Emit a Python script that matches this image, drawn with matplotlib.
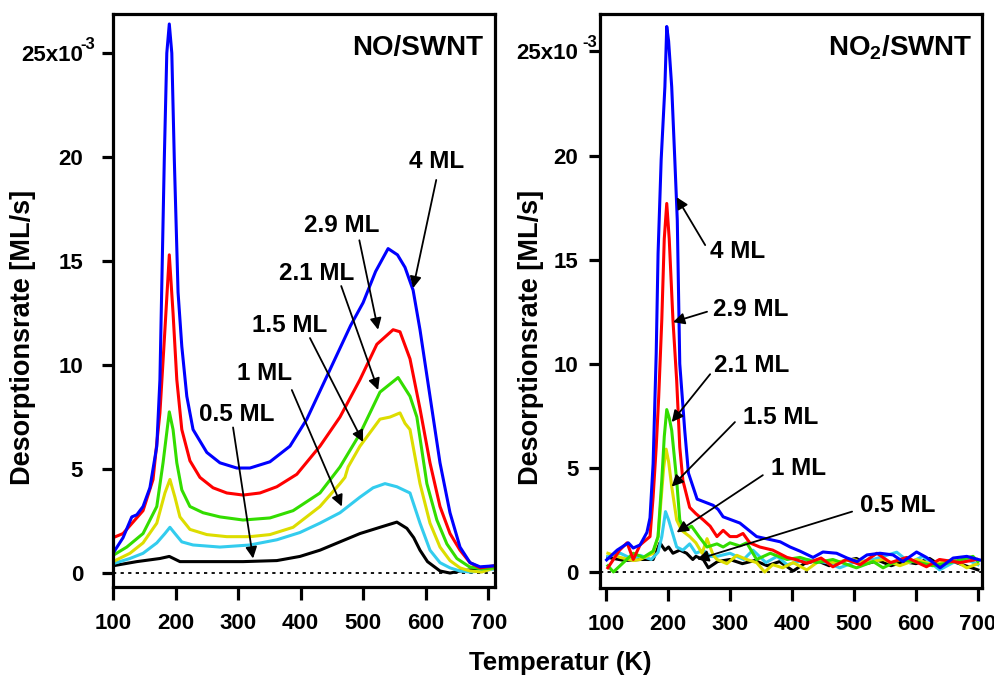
import matplotlib
matplotlib.use('Agg')
import matplotlib.pyplot as plt
from matplotlib.transforms import blended_transform_factory

# ---------------- data ----------------
labels = ['0.5 ML', '1 ML', '1.5 ML', '2.1 ML', '2.9 ML', '4 ML']
colors = ['black', '#33ccee', '#dddd00', '#33dd00', '#ff0000', '#0000ff']

# NO/SWNT (left panel)
no_t_05 = [100, 138, 175, 190, 207, 255, 308, 362, 399, 431, 463, 495, 527, 554, 570, 581, 591, 603, 623, 639, 655, 671, 690, 710]
no_r_05 = [0.35, 0.55, 0.7, 0.8, 0.55, 0.55, 0.55, 0.6, 0.8, 1.1, 1.5, 1.9, 2.2, 2.45, 2.15, 1.7, 1.1, 0.55, 0.1, 0.0, 0.1, 0.15, 0.2, 0.25]

no_t_1 = [100, 127, 148, 170, 183, 191, 199, 210, 228, 271, 319, 362, 399, 431, 463, 495, 516, 535, 554, 575, 591, 607, 623, 639, 655, 671, 690, 710]
no_r_1 = [0.45, 0.7, 0.95, 1.45, 1.9, 2.2, 1.9, 1.5, 1.35, 1.25, 1.35, 1.6, 1.95, 2.4, 2.9, 3.65, 4.1, 4.3, 4.15, 3.85, 2.4, 1.1, 0.5, 0.25, 0.1, 0.05, 0.1, 0.2]

no_t_15 = [100, 127, 148, 170, 183, 191, 199, 207, 223, 250, 282, 319, 351, 388, 431, 463, 471, 476, 495, 527, 543, 559, 567, 575, 591, 607, 623, 639, 655, 671, 690, 710]
no_r_15 = [0.55, 0.95, 1.45, 2.4, 3.85, 4.5, 3.65, 2.7, 2.1, 1.85, 1.75, 1.75, 1.85, 2.2, 3.2, 4.3, 4.6, 5.1, 6.1, 7.4, 7.5, 7.7, 7.2, 6.9, 4.3, 2.4, 1.25, 0.6, 0.25, 0.1, 0.05, 0.25]

no_t_21 = [100, 122, 148, 170, 180, 190, 196, 202, 210, 223, 244, 271, 308, 351, 388, 431, 463, 495, 527, 556, 575, 586, 602, 618, 634, 650, 670, 690, 710]
no_r_21 = [0.85, 1.25, 1.9, 3.2, 5.3, 7.75, 6.9, 5.3, 4.0, 3.2, 2.9, 2.7, 2.55, 2.65, 3.0, 3.85, 5.1, 6.7, 8.7, 9.4, 8.5, 7.5, 4.3, 2.55, 1.4, 0.7, 0.3, 0.2, 0.25]

no_t_29 = [100, 116, 132, 148, 164, 175, 183, 190, 196, 202, 210, 223, 239, 260, 282, 308, 335, 362, 394, 431, 463, 495, 522, 548, 559, 575, 591, 607, 623, 639, 655, 671, 687, 710]
no_r_29 = [1.7, 1.9, 2.45, 3.0, 4.5, 7.7, 11.7, 15.3, 12.5, 9.3, 6.9, 5.4, 4.6, 4.1, 3.85, 3.75, 3.85, 4.15, 4.75, 6.1, 7.5, 9.3, 11.0, 11.7, 11.6, 10.3, 7.9, 5.3, 3.2, 1.9, 1.1, 0.5, 0.25, 0.35]

no_t_4 = [100, 116, 130, 138, 148, 159, 170, 175, 182, 186, 190, 194, 198, 204, 210, 218, 228, 250, 271, 298, 319, 351, 383, 410, 452, 480, 500, 520, 540, 555, 567, 580, 591, 607, 623, 639, 655, 671, 687, 710]
no_r_4 = [0.95, 1.7, 2.7, 2.8, 3.2, 4.1, 6.1, 9.3, 19.9, 25.0, 26.4, 25.0, 19.9, 13.5, 10.9, 8.5, 6.9, 5.8, 5.3, 5.05, 5.05, 5.35, 6.1, 7.4, 10.1, 11.9, 13.0, 14.5, 15.6, 15.3, 14.7, 13.6, 11.7, 8.5, 5.3, 2.9, 1.25, 0.5, 0.3, 0.35]

# NO2/SWNT (right panel)
no2_t_05 = [103, 130, 155, 176, 187, 195, 201, 208, 219, 230, 240, 245, 257, 265, 280, 300, 320, 340, 360, 380, 402, 420, 440, 460, 480, 504, 520, 540, 560, 580, 600, 622, 640, 660, 680, 700]
no2_r_05 = [0.7, 0.55, 0.6, 0.6, 1.4, 1.05, 1.2, 0.9, 1.05, 0.9, 0.6, 0.75, 0.6, 0.2, 0.5, 0.6, 0.4, 0.55, 0.3, 0.5, 0.05, 0.4, 0.55, 0.3, 0.5, 0.65, 0.4, 0.55, 0.3, 0.5, 0.4, 0.65, 0.3, 0.5, 0.3, 0.1]

no2_t_1 = [103, 123, 144, 155, 173, 184, 190, 196, 201, 206, 214, 224, 235, 245, 257, 268, 279, 300, 322, 337, 358, 376, 392, 424, 456, 477, 499, 531, 569, 590, 611, 638, 660, 682, 700]
no2_r_1 = [0.75, 0.9, 0.6, 0.8, 0.6, 0.95, 1.7, 2.9, 2.5, 2.0, 1.2, 1.05, 1.35, 0.9, 1.05, 0.75, 0.75, 0.9, 0.6, 1.05, 0.45, 0.75, 0.35, 0.6, 0.45, 0.2, 0.45, 0.6, 0.95, 0.45, 0.75, 0.1, 0.45, 0.6, 0.35]

no2_t_15 = [103, 123, 144, 155, 176, 184, 190, 193, 197, 201, 206, 214, 222, 235, 245, 255, 263, 273, 279, 295, 311, 327, 343, 356, 369, 385, 402, 424, 447, 466, 499, 521, 547, 574, 601, 627, 660, 682, 700]
no2_r_15 = [0.9, 0.7, 0.55, 0.6, 0.9, 1.7, 3.9, 5.0, 5.9, 5.3, 4.1, 2.5, 2.0, 1.7, 1.4, 0.9, 1.6, 0.8, 0.6, 0.4, 0.8, 0.6, 0.45, 0.0, 0.35, 0.2, 0.45, 0.1, 0.6, 0.45, 0.6, 0.45, 0.6, 0.3, 0.6, 0.35, 0.6, 0.2, 0.4]

no2_t_21 = [103, 112, 128, 144, 160, 176, 184, 190, 194, 198, 202, 206, 214, 219, 227, 238, 250, 263, 279, 289, 300, 316, 327, 343, 365, 392, 413, 440, 466, 504, 531, 547, 574, 606, 627, 655, 692, 700]
no2_r_21 = [0.3, 0.0, 0.45, 0.9, 0.7, 1.0, 1.7, 4.4, 6.5, 7.8, 7.4, 6.8, 4.4, 2.5, 2.0, 2.2, 1.7, 1.2, 1.35, 1.2, 1.4, 1.25, 1.4, 0.6, 0.9, 0.6, 0.7, 0.45, 0.6, 0.2, 0.5, 0.2, 0.6, 0.45, 0.3, 0.45, 0.75, 0.5]

no2_t_29 = [103, 122, 134, 144, 155, 171, 176, 181, 185, 190, 194, 198, 202, 208, 214, 219, 224, 235, 245, 257, 268, 279, 289, 300, 311, 321, 332, 348, 369, 392, 408, 424, 447, 466, 488, 510, 537, 559, 585, 617, 638, 671, 698]
no2_r_29 = [0.2, 1.05, 1.4, 0.6, 1.3, 1.7, 3.6, 6.0, 8.4, 12.1, 16.0, 17.7, 16.0, 12.1, 9.2, 6.0, 4.4, 3.1, 2.8, 2.5, 2.2, 1.7, 2.0, 1.7, 1.7, 1.85, 1.4, 1.2, 1.05, 0.7, 0.58, 0.42, 0.67, 0.25, 0.6, 0.35, 0.9, 0.45, 0.7, 0.25, 0.6, 0.45, 0.6]

no2_t_4 = [101, 118, 136, 144, 155, 166, 171, 176, 181, 184, 189, 195, 198, 201, 206, 211, 215, 219, 227, 233, 247, 273, 281, 289, 316, 343, 381, 397, 413, 434, 450, 472, 489, 505, 521, 542, 563, 579, 601, 617, 639, 660, 682, 703]
no2_r_4 = [0.58, 1.05, 1.4, 1.15, 1.3, 1.9, 2.6, 5.2, 10.5, 15.3, 19.8, 23.3, 26.2, 25.5, 23.3, 19.8, 16.9, 10.0, 6.8, 4.75, 3.5, 3.2, 3.0, 2.65, 2.35, 1.7, 1.45, 1.2, 1.0, 0.7, 0.96, 0.9, 0.67, 0.5, 0.82, 0.9, 0.82, 0.5, 0.96, 0.7, 0.2, 0.67, 0.75, 0.58]

no_series = [(no_t_05, no_r_05), (no_t_1, no_r_1), (no_t_15, no_r_15),
             (no_t_21, no_r_21), (no_t_29, no_r_29), (no_t_4, no_r_4)]
no2_series = [(no2_t_05, no2_r_05), (no2_t_1, no2_r_1), (no2_t_15, no2_r_15),
              (no2_t_21, no2_r_21), (no2_t_29, no2_r_29), (no2_t_4, no2_r_4)]

yticks = [0, 5, 10, 15, 20, 25]
ytick_labels = ['0', '5', '10', '15', '20', '25x10']
xticks = [100, 200, 300, 400, 500, 600, 700]

# ---------------- style ----------------
plt.rcParams['font.family'] = ['Liberation Sans', 'DejaVu Sans']
plt.rcParams['font.weight'] = 'bold'
plt.rcParams['mathtext.fontset'] = 'custom'
plt.rcParams['mathtext.rm'] = 'Liberation Sans:bold'
plt.rcParams['mathtext.it'] = 'Liberation Sans:bold'
plt.rcParams['mathtext.bf'] = 'Liberation Sans:bold'

fig = plt.figure(figsize=(9.95, 6.79), dpi=100)
ax1 = fig.add_axes([0.1136, 0.1355, 0.3839, 0.8439])
ax2 = fig.add_axes([0.603, 0.134, 0.3839, 0.8454])


def setup(ax, xlim, ylim, ypad, sup_x, title, title_x):
    ax.set_xlim(*xlim)
    ax.set_ylim(*ylim)
    ax.set_xticks(xticks)
    ax.set_yticks(yticks)
    ax.set_yticklabels(ytick_labels)
    for s in ax.spines.values():
        s.set_linewidth(2.3)
    ax.tick_params(axis='x', direction='out', length=9, width=2.3,
                   labelsize=16, pad=10)
    ax.tick_params(axis='y', direction='out', length=8, width=2.3,
                   labelsize=16, pad=ypad)
    for lab in ax.get_xticklabels() + ax.get_yticklabels():
        lab.set_fontweight('bold')
    ax.axhline(0, color='black', lw=1.3, ls=(0, (1.8, 2.4)), zorder=1)
    tr = blended_transform_factory(ax.transAxes, ax.transData)
    ax.text(sup_x, 25.2, '-3', transform=tr, fontsize=12, fontweight='bold',
            ha='left', va='baseline', clip_on=False)
    ax.text(title_x, 0.928, title, transform=ax.transAxes, fontsize=20,
            fontweight='bold', ha='right', va='baseline')


def curves(ax, series):
    for (t, r), c in zip(series, colors):
        ax.plot(t, r, color=c, lw=2.2, solid_joinstyle='round', zorder=2)


def arrows(ax, notes):
    for lab, txt_xy, tail, head in notes:
        ax.text(txt_xy[0], txt_xy[1], lab, fontsize=17.5, fontweight='bold',
                ha='center', va='center', zorder=5)
        ax.annotate('', xy=head, xytext=tail,
                    arrowprops=dict(arrowstyle='-|>', color='black', lw=1.3,
                                    mutation_scale=17, shrinkA=0, shrinkB=0),
                    zorder=5)


curves(ax1, no_series)
setup(ax1, (100, 711), (-0.67, 26.88), 13.5, -0.086, 'NO/SWNT', 0.969)
arrows(ax1, [
    ('4 ML', (618, 19.8), (617, 18.9), (580, 13.7)),
    ('2.9 ML', (465, 16.7), (494, 16.0), (524, 11.7)),
    ('2.1 ML', (426, 14.4), (465, 13.8), (524, 8.8)),
    ('1.5 ML', (383, 11.9), (415, 11.3), (500, 6.3)),
    ('1 ML', (343, 9.6), (386, 8.8), (466, 3.2)),
    ('0.5 ML', (298, 7.6), (292, 7.0), (324, 0.7)),
])

curves(ax2, no2_series)
setup(ax2, (90.3, 706.5), (-0.77, 26.8), 7.5, -0.047, 'NO$_2$/SWNT', 0.976)
arrows(ax2, [
    ('4 ML', (313, 15.4), (260, 15.7), (214, 18.0)),
    ('2.9 ML', (334, 12.6), (263, 12.5), (208, 12.0)),
    ('2.1 ML', (335, 9.9), (268, 9.5), (206, 7.2)),
    ('1.5 ML', (381, 7.4), (308, 7.2), (206, 4.1)),
    ('1 ML', (410, 4.95), (353, 4.65), (214, 1.9)),
    ('0.5 ML', (571, 3.2), (497, 2.9), (247, 0.6)),
])

fig.text(0.023, 0.503, 'Desorptionsrate [ML/s]', rotation=90, fontsize=19.5,
         fontweight='bold', ha='center', va='center')
fig.text(0.534, 0.503, 'Desorptionsrate [ML/s]', rotation=90, fontsize=19.5,
         fontweight='bold', ha='center', va='center')
fig.text(0.563, 0.013, 'Temperatur (K)', fontsize=18.5, fontweight='bold',
         ha='center', va='baseline')

fig.savefig('out.png', dpi=100)
